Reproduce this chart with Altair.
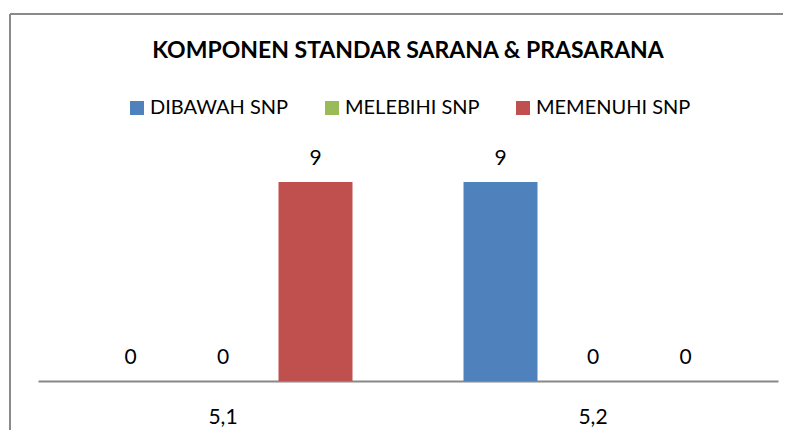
import altair as alt
import pandas as pd

categories = ["5,1", "5,2"]
series = ["DIBAWAH SNP", "MELEBIHI SNP", "MEMENUHI SNP"]
values_51 = [0, 0, 9]
values_52 = [9, 0, 0]
colors = ["#4F81BD", "#9BBB59", "#C0504D"]

rows = []
for cat, vals in zip(categories, [values_51, values_52]):
    for s, v in zip(series, vals):
        rows.append({"kategori": cat, "seri": s, "nilai": v})
df = pd.DataFrame(rows)

FONT = "Lato"

base = alt.Chart(df).encode(
    x=alt.X("kategori:N", sort=categories, title=None,
            scale=alt.Scale(paddingInner=0, paddingOuter=0),
            axis=alt.Axis(labelAngle=0, ticks=False, domainColor="#888888",
                          domainWidth=2, labelFontSize=21, labelFont=FONT,
                          labelColor="#000000", labelPadding=25)),
    xOffset=alt.XOffset("seri:N", sort=series,
                        scale=alt.Scale(paddingInner=0.2, paddingOuter=0.6)),
    y=alt.Y("nilai:Q", scale=alt.Scale(domain=[0, 10]), axis=None),
)

bars = base.mark_bar().encode(
    color=alt.Color("seri:N", sort=series,
                    scale=alt.Scale(domain=series, range=colors),
                    legend=alt.Legend(title=None, orient="none", direction="horizontal",
                                      columns=3, legendX=89, legendY=-62,
                                      symbolType="square", symbolSize=196,
                                      symbolStrokeWidth=0, labelFontSize=20,
                                      labelFont=FONT, labelColor="#000000",
                                      labelOffset=3, columnPadding=33))
)

labels = base.mark_text(baseline="alphabetic", dy=-17, fontSize=21, font=FONT,
                        color="#000000").encode(text=alt.Text("nilai:Q"))

frame_df = pd.DataFrame({"a": [0]})
frame_left = alt.Chart(frame_df).mark_rule(color="#8a8a8a", strokeWidth=2).encode(
    x=alt.value(-28), y=alt.value(-146), y2=alt.value(270))
frame_top = alt.Chart(frame_df).mark_rule(color="#8a8a8a", strokeWidth=2).encode(
    x=alt.value(-28), x2=alt.value(745), y=alt.value(-146))

chart = alt.layer(frame_left, frame_top, bars, labels).properties(
    width=740, height=221,
    padding={"left": 1, "top": 5, "right": 0, "bottom": 0},
    title=alt.TitleParams("KOMPONEN STANDAR SARANA & PRASARANA", fontSize=23,
                          font=FONT, fontWeight="bold", color="#000000",
                          anchor="middle", offset=-50),
).configure_view(stroke=None)

chart.save("out.html", embed_options={"renderer": "svg", "actions": False})
